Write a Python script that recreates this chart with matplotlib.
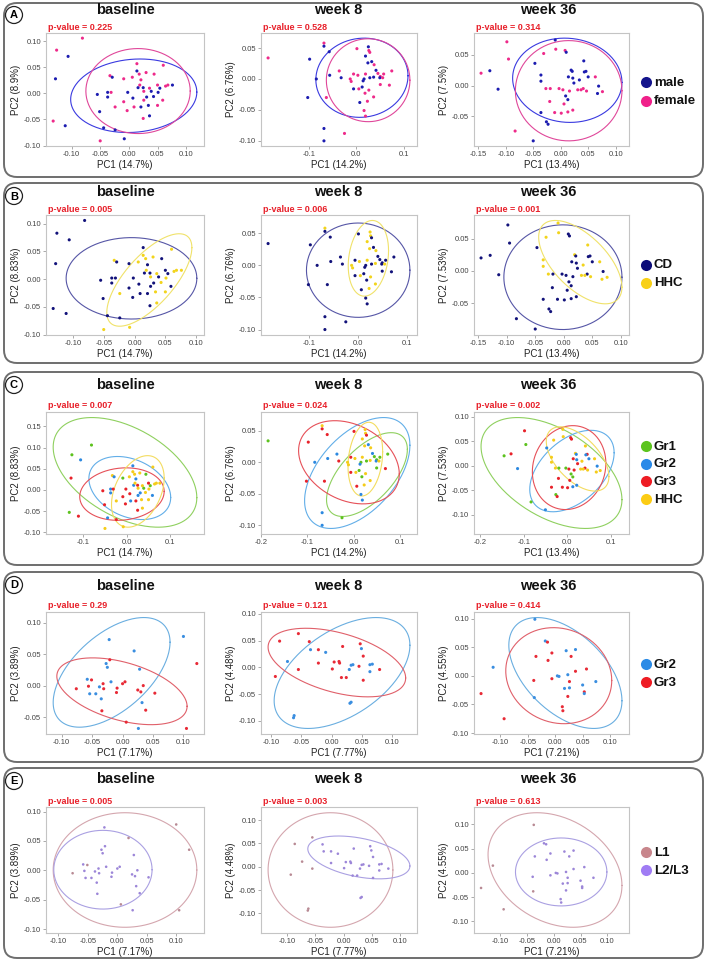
import numpy as np
import matplotlib.pyplot as plt
from matplotlib.patches import FancyBboxPatch, Circle
from matplotlib.ticker import MultipleLocator, FuncFormatter

plt.rcParams['font.family'] = ['Liberation Sans', 'DejaVu Sans']

# ---------------- PCA scores, rows A-C (same samples, coloured 3 ways) ----------------
# sex: m / f      grp: 1,2,3 = Gr1..Gr3 (CD), H = HHC
bl_pc1 = [-0.081, -0.126, -0.106, -0.128, -0.132, -0.111, -0.050, -0.008, -0.044, -0.024,
          -0.051, -0.055, -0.037, -0.037, -0.031, -0.033, -0.029, -0.024, -0.003, -0.009,
          -0.002, 0.006, 0.007, -0.009, 0.014, 0.014, 0.018, 0.021, 0.016, 0.019,
          0.009, 0.021, 0.025, 0.026, 0.026, 0.031, 0.030, 0.034, 0.036, 0.025,
          0.036, 0.039, 0.043, 0.044, 0.050, 0.051, 0.054, 0.059, 0.060, 0.064,
          0.068, 0.076, 0.050]
bl_pc2 = [0.106, 0.083, 0.071, 0.028, -0.053, -0.062, -0.091, -0.087, -0.066, -0.070,
          -0.035, -0.002, 0.002, -0.007, 0.002, 0.034, 0.031, -0.026, -0.033, 0.028,
          0.002, 0.031, -0.009, -0.016, 0.057, 0.043, 0.037, 0.026, 0.011, 0.016,
          -0.026, -0.026, 0.011, -0.013, 0.004, -0.007, 0.040, -0.023, -0.043, -0.048,
          0.010, 0.004, -0.006, 0.037, -0.023, 0.002, 0.010, -0.013, 0.054, 0.014,
          0.016, 0.016, 0.016]
bl_sex = "ffmmfmfmmm" "mmmmffmfff" "mfmffmffmf" "fmmffmfmmf" "fmmffmmfff" "fmf"
bl_grp = "112313HH23" "33223H2H31" "3H332HH22H" "2332H2HHH3" "H1H1HH12HH" "HH3"

w8_pc1 = [-0.185, -0.068, -0.068, -0.057, -0.098, -0.084, -0.102, -0.063, -0.068, -0.068,
          -0.025, -0.056, -0.036, -0.032, 0.001, 0.019, 0.025, 0.026, 0.028, 0.024,
          0.032, 0.037, 0.041, 0.045, 0.050, 0.049, 0.055, 0.057, 0.074, 0.069,
          -0.006, 0.003, 0.016, 0.014, 0.019, 0.028, 0.036, -0.011, -0.006, 0.005,
          0.012, 0.018, 0.026, 0.036, 0.007, 0.023, 0.016, 0.019, 0.050, -0.013]
w8_pc2 = [0.034, 0.058, 0.053, 0.044, 0.032, 0.000, -0.030, -0.030, -0.080, -0.100,
          -0.088, 0.006, 0.013, 0.002, 0.049, 0.037, 0.052, 0.046, 0.043, 0.026,
          0.028, 0.023, 0.014, 0.009, 0.004, 0.002, 0.002, 0.008, 0.013, -0.010,
          0.008, 0.006, 0.000, -0.003, 0.008, 0.002, 0.003, -0.004, -0.016, -0.016,
          -0.013, -0.023, -0.018, -0.029, -0.038, -0.036, -0.051, -0.060, -0.009, 0.000]
w8_sex = "ffmmmmmfmm" "fmfmfmmffm" "mfmffmffff" "ffmmfmmfmf" "mfffmfffff"
w8_grp = "1H33323322" "12233HHH3H" "2H2112H113" "3H12H1HH3H" "11HH3H221H"

w36_pc1 = [-0.098, -0.095, -0.145, -0.129, -0.114, -0.083, -0.050, -0.010, -0.031, -0.009,
           0.008, 0.010, -0.047, -0.036, -0.036, -0.027, -0.019, -0.003, 0.004, 0.016,
           0.019, 0.021, 0.014, 0.022, 0.024, 0.034, 0.042, 0.046, 0.043, 0.050,
           0.063, 0.031, 0.041, 0.047, 0.069, 0.076, 0.067, 0.009, 0.013, 0.006,
           -0.020, -0.011, 0.001, 0.013, 0.022, -0.036, -0.026, -0.023, 0.037]
w36_pc2 = [0.071, 0.043, 0.020, 0.024, -0.006, -0.074, -0.090, 0.074, 0.052, 0.059,
           0.057, 0.054, 0.036, 0.017, 0.007, -0.005, -0.005, -0.005, -0.007, -0.009,
           0.025, 0.023, 0.014, 0.012, 0.004, 0.009, 0.040, 0.023, 0.022, 0.014,
           0.014, -0.007, -0.005, -0.009, -0.001, -0.010, -0.013, -0.017, -0.023, -0.030,
           -0.026, -0.044, -0.045, -0.043, -0.040, -0.044, -0.059, -0.063, -0.007]
w36_sex = "fffmmfmmff" "fmmmmfffff" "mmmmmmmmmm" "ffffmfmmmf" "fffffmmmf"
w36_grp = "3113212HHH" "332HHH1133" "H2323HH322" "HH3H2HH113" "33322313H"

# ---------------- PCA scores, rows D-E (Gr2/Gr3 subset) ----------------
# grp: b = Gr2, r = Gr3      loc: L = L1, o = L2/L3
d0_pc1 = [0.100, 0.122, 0.105, -0.022, 0.019, -0.021, -0.027, -0.025, 0.028, -0.058,
          -0.051, -0.076, -0.056, -0.054, -0.044, -0.038, -0.032, -0.035, -0.031, -0.019,
          -0.009, -0.010, 0.000, 0.004, 0.025, 0.030, 0.034, 0.053, 0.032, 0.038,
          -0.034, 0.006, 0.026]
d0_pc2 = [0.078, 0.035, -0.068, 0.073, 0.055, 0.041, 0.035, 0.029, 0.026, 0.010,
          0.009, -0.005, -0.001, -0.013, -0.013, -0.002, 0.003, -0.021, -0.005, 0.006,
          -0.004, -0.011, 0.003, 0.006, -0.007, -0.010, 0.000, -0.012, -0.027, -0.039,
          -0.040, -0.058, -0.068]
d0_grp = "brrbbrbbbb" "rrrbbbrbrb" "rrrrrrrrbr" "rrb"
d0_loc = "LLLoLooooo" "LLoooooooo" "oooooooooo" "oLo"

d8_pc1 = [-0.086, -0.055, -0.037, -0.035, -0.022, -0.010, -0.073, -0.022, -0.055, -0.093,
          0.004, 0.012, 0.013, 0.018, 0.001, 0.016, 0.024, 0.032, 0.035, 0.029,
          0.032, 0.030, -0.062, -0.063, 0.047, 0.049, 0.052, 0.045, 0.063, 0.067,
          0.063, 0.079, 0.052]
d8_pc2 = [0.049, 0.063, 0.048, 0.033, 0.033, 0.028, 0.011, 0.008, -0.004, -0.017,
          0.010, 0.011, 0.008, 0.039, -0.003, -0.019, -0.019, 0.004, 0.005, -0.004,
          -0.065, -0.067, -0.090, -0.094, 0.044, 0.035, 0.021, 0.002, 0.005, 0.006,
          -0.008, -0.004, -0.024]
d8_grp = "rrrbrbbrrr" "rrrrrrrbbb" "bbbbrbrrbb" "brr"
d8_loc = "LLooooLoLL" "oooooooooo" "ooLLoooooo" "ooo"

d36_pc1 = [-0.037, -0.018, -0.014, -0.035, -0.006, -0.013, 0.020, 0.037, 0.029, -0.113,
           -0.039, -0.006, 0.004, 0.007, 0.023, 0.037, 0.057, 0.026, 0.017, 0.026,
           0.023, 0.050, 0.053, 0.053, 0.074, -0.038, -0.135, -0.093, 0.013, 0.014]
d36_pc2 = [0.099, 0.061, 0.059, 0.034, 0.040, 0.027, 0.044, 0.046, 0.034, 0.015,
           -0.008, -0.005, 0.000, -0.001, 0.002, 0.008, 0.012, -0.010, -0.022, -0.021,
           -0.036, -0.016, -0.028, -0.031, -0.010, -0.038, -0.031, -0.075, -0.054, -0.061]
d36_grp = "bbrrrrbbrb" "rrbbbrrrbb" "rbrbbbrrrr"
d36_loc = "LooooooooL" "oooooooooo" "oooooLLLoo"

# ---------------- confidence ellipses ----------------
# (centre x, centre y, half width, half height, tilt)  for baseline, week 8, week 36
ell_sex = {'male':   [(0.0085, -0.0045, 0.110, 0.0705, 0.10), (0.0115, 0.002, 0.0965, 0.064, 0.05),
                      (0.012, 0.0085, 0.0995, 0.0685, -0.05)],
           'female': [(0.016, 0.0045, 0.091, 0.0815, 0.0), (0.0245, -0.002, 0.0875, 0.067, 0.0),
                      (0.0145, -0.0085, 0.097, 0.0815, 0.0)]}
ell_cd = {'CD':  [(-0.005, 0.0015, 0.106, 0.0735, 0.0), (0.0005, -0.0075, 0.1065, 0.0735, 0.0),
                  (-0.0015, -0.0098, 0.1035, 0.081, 0.0)],
          'HHC': [(0.024, -0.0015, 0.069, 0.0835, 0.7), (0.0215, 0.011, 0.0415, 0.059, 0.2),
                  (0.029, 0.0135, 0.073, 0.0645, -0.6)]}
ell_grp = {'Gr1': [(-0.004, 0.0415, 0.165, 0.1295, -0.46), (0.029, -0.0195, 0.0875, 0.0665, 0.6),
                   (-0.036, -0.015, 0.162, 0.113, -0.48)],
           'Gr2': [(0.007, 0.0045, 0.094, 0.0745, -0.3), (0.008, -0.017, 0.114, 0.088, 0.5),
                   (0.011, -0.011, 0.097, 0.083, 0.45)],
           'Gr3': [(-0.011, -0.0098, 0.097, 0.062, 0.1), (-0.010, 0.0, 0.109, 0.066, -0.28),
                   (0.0045, -0.004, 0.0845, 0.0855, 0.1)],
           'HHC': [(0.0255, -0.0035, 0.0605, 0.0845, 0.37), (0.0255, 0.005, 0.0375, 0.0585, 0.2),
                   (0.024, 0.0137, 0.072, 0.0655, -0.55)]}
ell_d = {'Gr2': [(-0.018, 0.021, 0.096, 0.087, 0.55), (0.017, -0.0105, 0.112, 0.1035, 0.5),
                 (0.0186, 0.005, 0.103, 0.097, -0.5)],
         'Gr3': [(-0.001, -0.009, 0.107, 0.053, -0.45), (0.0085, 0.009, 0.1135, 0.064, -0.45),
                 (0.0065, 0.0003, 0.0965, 0.084, -0.1)]}
ell_e = {'L1':    [(0.013, 0.0005, 0.122, 0.0975, 0.0), (-0.023, -0.007, 0.110, 0.123, 0.0),
                   (0.0025, 0.006, 0.1245, 0.118, -0.27)],
         'L2/L3': [(-0.0245, 0.001, 0.0835, 0.067, 0.0), (0.027, 0.020, 0.090, 0.046, -0.4),
                   (0.014, 0.002, 0.085, 0.070, 0.0)]}

pvals = [['0.225', '0.528', '0.314'], ['0.005', '0.006', '0.001'], ['0.007', '0.024', '0.002'],
         ['0.29', '0.121', '0.414'], ['0.005', '0.003', '0.613']]
xlabs_abc = ['PC1 (14.7%)', 'PC1 (14.2%)', 'PC1 (13.4%)']
xlabs_de = ['PC1 (7.17%)', 'PC1 (7.77%)', 'PC1 (7.21%)']
ylabs = [['PC2 (8.9%)', 'PC2 (6.76%)', 'PC2 (7.5%)'],
         ['PC2 (8.83%)', 'PC2 (6.76%)', 'PC2 (7.53%)'],
         ['PC2 (8.83%)', 'PC2 (6.76%)', 'PC2 (7.53%)'],
         ['PC2 (3.89%)', 'PC2 (4.48%)', 'PC2 (4.55%)'],
         ['PC2 (3.89%)', 'PC2 (4.48%)', 'PC2 (4.55%)']]
times = ['baseline', 'week 8', 'week 36']

abc_sets = [(bl_pc1, bl_pc2, bl_sex, bl_grp), (w8_pc1, w8_pc2, w8_sex, w8_grp),
            (w36_pc1, w36_pc2, w36_sex, w36_grp)]
de_sets = [(d0_pc1, d0_pc2, d0_grp, d0_loc), (d8_pc1, d8_pc2, d8_grp, d8_loc),
           (d36_pc1, d36_pc2, d36_grp, d36_loc)]

sex_name = {'m': 'male', 'f': 'female'}
cd_name = {'1': 'CD', '2': 'CD', '3': 'CD', 'H': 'HHC'}
grp_name = {'1': 'Gr1', '2': 'Gr2', '3': 'Gr3', 'H': 'HHC'}
d_name = {'b': 'Gr2', 'r': 'Gr3'}
e_name = {'L': 'L1', 'o': 'L2/L3'}

rows = []
rows.append(dict(letter='A', sets=[(x, y, [sex_name[c] for c in s]) for x, y, s, g in abc_sets],
                 ells=ell_sex, xl=xlabs_abc,
                 pt={'male': '#1c1cb0', 'female': '#ee2a8a'},
                 el={'male': '#3a3ae0', 'female': '#e0479a'},
                 leg={'male': '#14148c', 'female': '#f0208a'},
                 steps=[(0.05, 0.05), (0.1, 0.05), (0.05, 0.05)]))
rows.append(dict(letter='B', sets=[(x, y, [cd_name[c] for c in g]) for x, y, s, g in abc_sets],
                 ells=ell_cd, xl=xlabs_abc,
                 pt={'CD': '#12127a', 'HHC': '#f2d41c'},
                 el={'CD': '#5656a6', 'HHC': '#f0e26a'},
                 leg={'CD': '#0c0c78', 'HHC': '#f8d018'},
                 steps=[(0.05, 0.05), (0.1, 0.05), (0.05, 0.05)]))
rows.append(dict(letter='C', sets=[(x, y, [grp_name[c] for c in g]) for x, y, s, g in abc_sets],
                 ells=ell_grp, xl=xlabs_abc,
                 pt={'Gr1': '#5dc21e', 'Gr2': '#2b88e0', 'Gr3': '#e8222a', 'HHC': '#f5cc1a'},
                 el={'Gr1': '#8fd05f', 'Gr2': '#62aee8', 'Gr3': '#e65058', 'HHC': '#f3dc60'},
                 leg={'Gr1': '#5cc41e', 'Gr2': '#2a8ae8', 'Gr3': '#ee1c24', 'HHC': '#fccc14'},
                 steps=[(0.1, 0.05), (0.1, 0.05), (0.1, 0.05)]))
rows.append(dict(letter='D', sets=[(x, y, [d_name[c] for c in g]) for x, y, g, l in de_sets],
                 ells=ell_d, xl=xlabs_de,
                 pt={'Gr2': '#3a8ee0', 'Gr3': '#e82a36'},
                 el={'Gr2': '#6aaee0', 'Gr3': '#e0606a'},
                 leg={'Gr2': '#2b8be6', 'Gr3': '#ee1c24'},
                 steps=[(0.05, 0.05)] * 3))
rows.append(dict(letter='E', sets=[(x, y, [e_name[c] for c in l]) for x, y, g, l in de_sets],
                 ells=ell_e, xl=xlabs_de,
                 pt={'L1': '#b88a94', 'L2/L3': '#9c86d8'},
                 el={'L1': '#d4a6ae', 'L2/L3': '#aaa0e2'},
                 leg={'L1': '#c8868c', 'L2/L3': '#a07cf4'},
                 steps=[(0.05, 0.05)] * 3))

# ---------------- layout (pixels) ----------------
W, H = 708, 961
box_rows = [(3, 177), (183, 363), (372, 565), (572, 762), (768, 958)]
ax_rows = [(33, 146), (215, 335), (412, 534), (612, 734), (807, 933)]
ax_cols = [(46, 204), (261, 417), (474, 629)]
title_y = [10, 192, 385, 586, 779]
title_x = [125, 338, 548]
leg_y0 = [82, 265, 446, 664, 852]
leg_dy = [19, 18, 17.7, 18, 18]


def ellipse_xy(cx, cy, hw, hh, r, n=240):
    t = np.linspace(0, 2 * np.pi, n)
    return cx + hw * np.cos(t), cy + hh * (r * np.cos(t) + np.sqrt(1 - r * r) * np.sin(t))


def tick_fmt(step):
    nd = 2 if step < 0.099 else 1
    def f(v, p):
        if abs(v) < 1e-9:
            v = 0.0
        return '%.*f' % (nd, round(v / step) * step + 0.0)
    return FuncFormatter(f)


fig = plt.figure(figsize=(W / 100, H / 100), dpi=100)
bg = fig.add_axes([0, 0, 1, 1])
bg.set_xlim(0, W)
bg.set_ylim(H, 0)
bg.axis('off')

for ri, row in enumerate(rows):
    top, bot = box_rows[ri]
    bg.add_patch(FancyBboxPatch((4, top), 699, bot - top, boxstyle='round,pad=0,rounding_size=13',
                                fc='white', ec='#6e6e6e', lw=1.4))
    cy = top + 13 if ri else 15
    bg.add_patch(Circle((14, cy), 8.5, fc='white', ec='#222222', lw=0.9))
    bg.text(14, cy + 0.5, row['letter'], ha='center', va='center', fontsize=8, fontweight='bold')
    for ci in range(3):
        bg.text(title_x[ci], title_y[ri], times[ci], ha='center', va='center',
                fontsize=10.5, fontweight='bold', color='#111111')

    # legend
    for k, (lab, col) in enumerate(row['leg'].items()):
        yy = leg_y0[ri] + k * leg_dy[ri]
        bg.plot(646, yy, 'o', ms=8, color=col, mec='none')
        bg.text(654, yy + 0.5, lab, ha='left', va='center', fontsize=9.5, fontweight='bold',
                color='#111111')

    at, ab = ax_rows[ri]
    for ci in range(3):
        al, ar = ax_cols[ci]
        ax = fig.add_axes([al / W, 1 - ab / H, (ar - al) / W, (ab - at) / H])
        xs, ys, labs = row['sets'][ci]
        xs = np.array(xs)
        ys = np.array(ys)
        cols = [row['pt'][l] for l in labs]
        ax.scatter(xs, ys, s=5 if row['letter'] != 'E' else 3.5, c=cols, linewidths=0, zorder=3)
        allx, ally = list(xs), list(ys)
        for lab, pars in row['ells'].items():
            ex, ey = ellipse_xy(*pars[ci])
            ax.plot(ex, ey, color=row['el'][lab], lw=0.8, zorder=2)
            allx += list(ex)
            ally += list(ey)
        x0, x1 = min(allx), max(allx)
        y0, y1 = min(ally), max(ally)
        ax.set_xlim(x0 - 0.05 * (x1 - x0), x1 + 0.05 * (x1 - x0))
        ax.set_ylim(y0 - 0.05 * (y1 - y0), y1 + 0.05 * (y1 - y0))
        sx, sy = row['steps'][ci]
        ax.xaxis.set_major_locator(MultipleLocator(sx))
        ax.yaxis.set_major_locator(MultipleLocator(sy))
        ax.xaxis.set_major_formatter(tick_fmt(sx))
        ax.yaxis.set_major_formatter(tick_fmt(sy))
        ax.tick_params(labelsize=5.5, labelcolor='#444444', length=2, width=0.5, color='#888888', pad=1.5)
        for sp in ax.spines.values():
            sp.set_color('#c4c4c4')
            sp.set_linewidth(0.8)
        ax.set_xlabel(row['xl'][ci], fontsize=7, labelpad=1.5, color='#222222')
        ax.set_ylabel(ylabs[ri][ci], fontsize=7, labelpad=2, color='#222222')
        bg.text(al + 2, at - 6, 'p-value = ' + pvals[ri][ci], ha='left', va='center',
                fontsize=6.5, fontweight='bold', color='#e8202a')

fig.savefig('out.png', dpi=100)
